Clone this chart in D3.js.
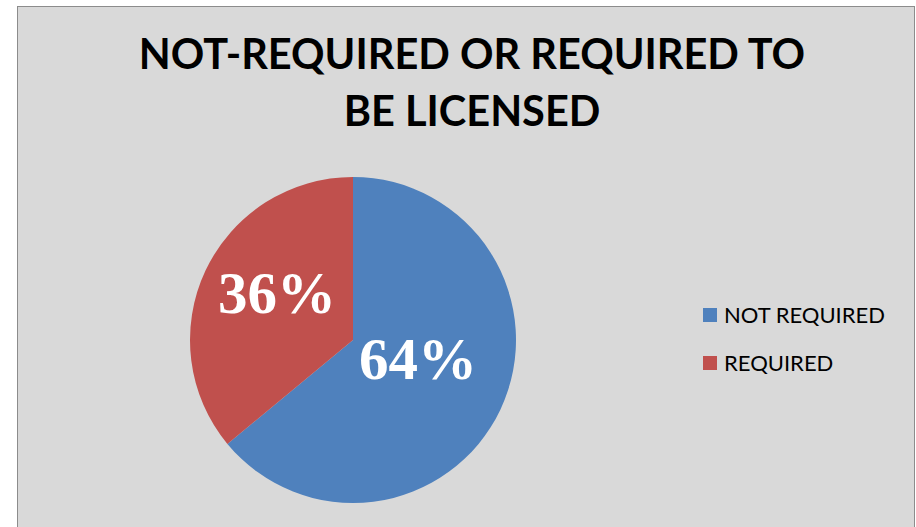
<!DOCTYPE html>
<html>
<head>
<meta charset="utf-8">
<script src="https://cdn.jsdelivr.net/npm/d3@7"></script>
<style>
    body { margin: 0; background: #fff; }
    svg { display: block; }
</style>
</head>
<body>
<script>
// dimensions
const width = 916;
const height = 527;

// data
const categories = ["NOT REQUIRED", "REQUIRED"];
const values = [64, 36];
const colors = ["#4f81bd", "#c0504d"];
const titleLines = ["NOT-REQUIRED OR REQUIRED TO", "BE LICENSED"];

const center = { x: 353, y: 340 };
const radius = 163;

let svg = d3.select("body")
    .append("svg")
    .attr("width", width)
    .attr("height", height);

// chart area background + border
svg.append("rect")
    .attr("x", 17.5)
    .attr("y", 6.5)
    .attr("width", 897)
    .attr("height", 530)
    .attr("fill", "#d9d9d9")
    .attr("stroke", "#8c8c8c")
    .attr("stroke-width", 1);

// title
svg.append("g")
    .selectAll("text")
    .data(titleLines)
    .enter()
    .append("text")
    .attr("x", 472)
    .attr("y", function(d, i) { return 69 + i * 57; })
    .attr("text-anchor", "middle")
    .style("font-family", "Lato, 'Open Sans', sans-serif")
    .style("font-weight", "bold")
    .style("font-size", "41.5px")
    .style("fill", "#000")
    .text(function(d) { return d; });

// pie
let pie = d3.pie()
    .sort(null)
    .value(function(d) { return d; });

let arc = d3.arc()
    .innerRadius(0)
    .outerRadius(radius);

let arcs = pie(values);

let g = svg.append("g")
    .attr("transform", "translate(" + center.x + "," + center.y + ")");

g.selectAll("path")
    .data(arcs)
    .enter()
    .append("path")
    .attr("d", arc)
    .attr("fill", function(d, i) { return colors[i]; });

// percentage labels, placed a bit inside the slices
const labelArc = d3.arc()
    .innerRadius(78)
    .outerRadius(78);

const total = d3.sum(values);

g.selectAll(".label")
    .data(arcs)
    .enter()
    .append("text")
    .attr("class", "label")
    .attr("transform", function(d) {
        const c = labelArc.centroid(d);
        return "translate(" + (c[0] - 5.5) + "," + (c[1] - 14) + ")";
    })
    .attr("dy", "0.34em")
    .attr("text-anchor", "middle")
    .style("font-family", "'Liberation Serif', 'Times New Roman', serif")
    .style("font-weight", "bold")
    .style("font-size", "59px")
    .style("fill", "#fff")
    .text(function(d) { return Math.round(d.data / total * 100) + "%"; });

// legend
let legend = svg.append("g")
    .attr("transform", "translate(703,308)");

let item = legend.selectAll("g")
    .data(categories)
    .enter()
    .append("g")
    .attr("transform", function(d, i) { return "translate(0," + i * 48 + ")"; });

item.append("rect")
    .attr("width", 14)
    .attr("height", 14)
    .attr("fill", function(d, i) { return colors[i]; });

item.append("text")
    .attr("x", 21)
    .attr("y", 15)
    .style("font-family", "Lato, 'Open Sans', sans-serif")
    .style("font-size", "22px")
    .style("fill", "#000")
    .text(function(d) { return d; });
</script>
</body>
</html>
